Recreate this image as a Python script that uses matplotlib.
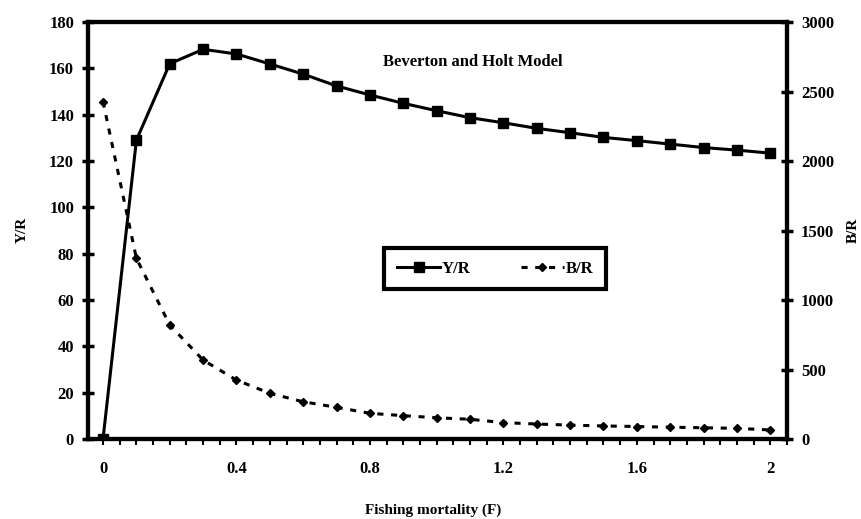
import matplotlib
matplotlib.use("Agg")
import matplotlib.pyplot as plt
from matplotlib.ticker import MultipleLocator

F = [0.0, 0.1, 0.2, 0.3, 0.4, 0.5, 0.6, 0.7, 0.8, 0.9, 1.0,
     1.1, 1.2, 1.3, 1.4, 1.5, 1.6, 1.7, 1.8, 1.9, 2.0]
YR = [0.0, 129.0, 162.0, 168.2, 166.2, 161.9, 157.5, 152.4, 148.5, 144.9, 141.7,
      138.7, 136.5, 134.1, 132.2, 130.2, 128.8, 127.3, 125.8, 124.7, 123.4]
BR = [2427, 1300, 820, 568, 424, 329, 268, 228, 185, 168, 153,
      142, 118, 108, 100, 94, 90, 85, 81, 77, 65]

title = "Beverton and Holt Model"
xlabel = "Fishing mortality (F)"
ylabel_left = "Y/R"
ylabel_right = "B/R"

plt.rcParams['font.family'] = ['Liberation Serif', 'DejaVu Serif']
plt.rcParams['font.weight'] = 'bold'

fig = plt.figure(figsize=(8.62, 5.19), dpi=100)
ax = fig.add_axes([0.1021, 0.1541, 0.8109, 0.8035])
ax2 = ax.twinx()

l1, = ax.plot(F, YR, color='black', lw=2.2, marker='s', markersize=7.5,
              label='Y/R', zorder=3)
l2, = ax2.plot(F, BR, color='black', lw=2.2, ls=(0, (2, 2.5)), marker='D',
               markersize=4.5, label='B/R')

ax.set_xlim(-0.045, 2.05)
ax.set_ylim(0, 180)
ax2.set_ylim(0, 3000)

ax.xaxis.set_major_locator(MultipleLocator(0.4))
ax.xaxis.set_minor_locator(MultipleLocator(0.05))
ax.yaxis.set_major_locator(MultipleLocator(20))
ax2.yaxis.set_major_locator(MultipleLocator(500))
ax.xaxis.set_major_formatter(plt.FuncFormatter(lambda v, p: f"{v:g}"))

for a in (ax, ax2):
    for s in a.spines.values():
        s.set_linewidth(3)

ax.tick_params(axis='x', which='both', direction='out', length=4, width=1.5,
               labelsize=12, pad=12)
ax.tick_params(axis='y', which='major', direction='inout', length=8, width=2.5,
               labelsize=12, pad=6)
ax2.tick_params(axis='y', which='major', direction='inout', length=8, width=2.5,
                labelsize=12, pad=6)

for lab in ax.get_xticklabels() + ax.get_yticklabels() + ax2.get_yticklabels():
    lab.set_fontweight('bold')

fig.text(433 / 862, 1 - 510 / 519, xlabel, ha='center', va='center',
         fontsize=11, fontweight='bold')
fig.text(22 / 862, 1 - 230 / 519, ylabel_left, ha='center', va='center',
         rotation=90, fontsize=11, fontweight='bold')
fig.text(853 / 862, 1 - 230 / 519, ylabel_right, ha='center', va='center',
         rotation=90, fontsize=11, fontweight='bold')

ax.text(0.551, 0.905, title, transform=ax.transAxes, ha='center', va='center',
        fontsize=12, fontweight='bold')

leg = ax.legend(handles=[l1, l2], loc='center', bbox_to_anchor=(0.5825, 0.408),
                ncol=2, frameon=True, fancybox=False, edgecolor='black',
                framealpha=1, handlelength=2.6, handletextpad=0.1,
                columnspacing=3.0, borderpad=0.75,
                prop={'weight': 'bold', 'size': 12})
leg.get_frame().set_linewidth(3)
leg.set_zorder(5)

fig.savefig("out.png", dpi=100)
